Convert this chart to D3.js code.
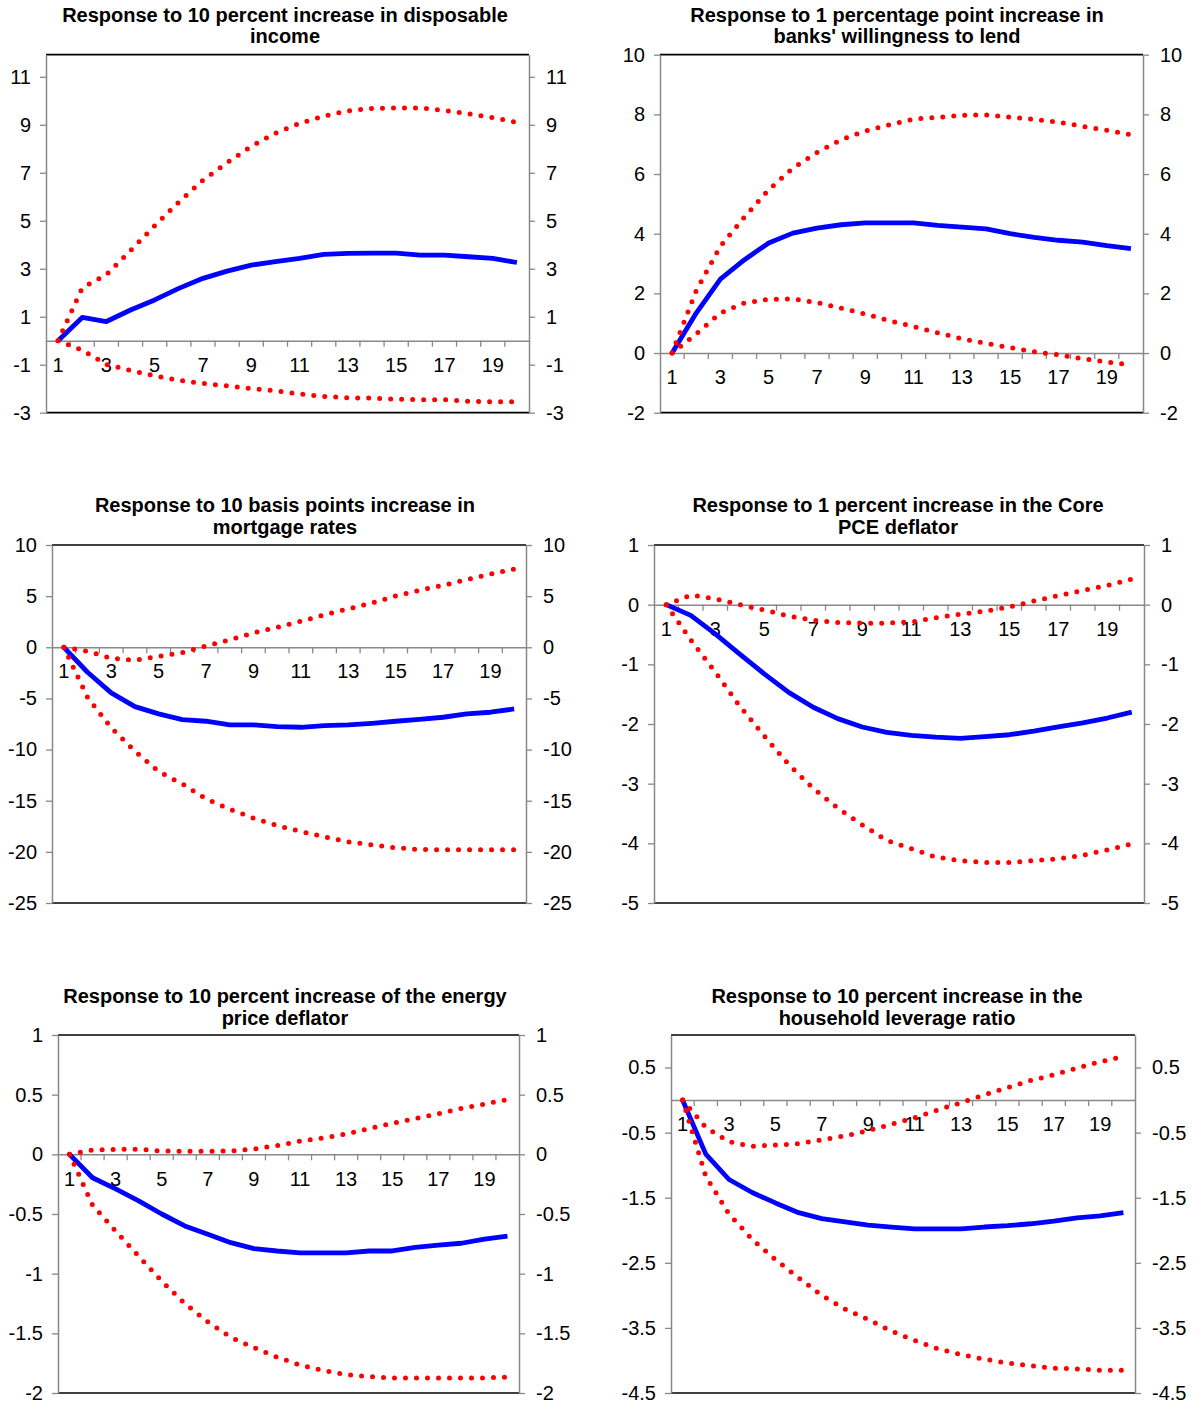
<!DOCTYPE html>
<html>
<head>
<meta charset="utf-8">
<script src="https://cdn.jsdelivr.net/npm/d3@7"></script>
<style>
  body { margin: 0; background: #fff; }
  text { font-family: "Liberation Sans", Arial, sans-serif; fill: #000; }
</style>
</head>
<body>
<svg id="chart" width="1194" height="1405"></svg>
<script>
// quarters after the shock
var periods = [1,2,3,4,5,6,7,8,9,10,11,12,13,14,15,16,17,18,19,20];
var periodLabels = [1,3,5,7,9,11,13,15,17,19];

// disposable income shock
var incomeMid = [0,0.97,0.8,1.28,1.7,2.18,2.6,2.9,3.15,3.3,3.43,3.6,3.64,3.65,3.65,3.57,3.57,3.5,3.43,3.26];
var incomeUp  = [0,2.2,2.75,3.76,4.79,5.78,6.69,7.42,8.1,8.65,9.06,9.36,9.58,9.68,9.7,9.7,9.6,9.46,9.3,9.1];
var incomeLow = [0,-0.39,-0.99,-1.24,-1.46,-1.65,-1.78,-1.88,-1.99,-2.08,-2.22,-2.32,-2.38,-2.39,-2.44,-2.46,-2.46,-2.53,-2.54,-2.54];
var incomeTicks = [-3,-1,1,3,5,7,9,11];

// banks' willingness to lend
var lendMid = [0,1.34,2.48,3.13,3.69,4.02,4.19,4.3,4.36,4.36,4.36,4.28,4.22,4.16,4.0,3.88,3.78,3.72,3.6,3.5];
var lendUp  = [0,2.09,3.58,4.56,5.47,6.2,6.72,7.15,7.44,7.65,7.84,7.9,7.97,7.98,7.91,7.83,7.74,7.6,7.47,7.32];
var lendLow = [0,0.64,1.34,1.68,1.8,1.81,1.69,1.5,1.31,1.08,0.89,0.68,0.48,0.32,0.18,0.04,-0.06,-0.19,-0.3,-0.39];
var lendTicks = [-2,0,2,4,6,8,10];

// mortgage rates
var mortMid = [0,-2.44,-4.46,-5.8,-6.51,-7.07,-7.23,-7.59,-7.59,-7.75,-7.82,-7.65,-7.59,-7.43,-7.23,-7.04,-6.84,-6.51,-6.35,-6.03];
var mortUp  = [0,-0.39,-1.07,-1.27,-0.88,-0.52,0.13,0.72,1.4,1.95,2.54,3.19,3.75,4.33,5.02,5.57,6.06,6.61,7.17,7.65];
var mortLow = [0,-4.9,-7.88,-10.16,-12.15,-13.36,-14.82,-15.83,-16.71,-17.43,-18.01,-18.53,-19.02,-19.32,-19.6,-19.77,-19.8,-19.8,-19.8,-19.8];
var mortTicks = [-25,-20,-15,-10,-5,0,5,10];

// core PCE deflator
var pceMid = [0,-0.18,-0.49,-0.83,-1.16,-1.47,-1.72,-1.91,-2.05,-2.14,-2.19,-2.22,-2.24,-2.21,-2.18,-2.12,-2.05,-1.98,-1.9,-1.8];
var pceUp  = [0,0.16,0.1,0.0,-0.09,-0.19,-0.26,-0.3,-0.31,-0.31,-0.29,-0.22,-0.16,-0.11,-0.04,0.06,0.15,0.24,0.32,0.43];
var pceLow = [0,-0.59,-1.13,-1.7,-2.2,-2.68,-3.08,-3.41,-3.69,-3.95,-4.09,-4.23,-4.29,-4.32,-4.32,-4.29,-4.26,-4.2,-4.11,-4.01];
var pceTicks = [-5,-4,-3,-2,-1,0,1];

// energy price deflator
var energyMid = [0,-0.196,-0.29,-0.39,-0.5,-0.6,-0.67,-0.74,-0.79,-0.81,-0.825,-0.825,-0.825,-0.81,-0.81,-0.78,-0.76,-0.745,-0.71,-0.685];
var energyUp  = [0,0.036,0.042,0.042,0.028,0.025,0.025,0.028,0.045,0.073,0.11,0.137,0.17,0.215,0.26,0.3,0.34,0.386,0.42,0.46];
var energyLow = [0,-0.425,-0.643,-0.853,-1.063,-1.25,-1.404,-1.533,-1.62,-1.7,-1.765,-1.81,-1.846,-1.863,-1.874,-1.874,-1.874,-1.874,-1.874,-1.866];
var energyTicks = [-2,-1.5,-1,-0.5,0,0.5,1];

// household leverage ratio
var levMid = [0,-0.83,-1.22,-1.42,-1.58,-1.73,-1.82,-1.87,-1.92,-1.95,-1.98,-1.98,-1.98,-1.95,-1.93,-1.9,-1.86,-1.81,-1.78,-1.73];
var levUp  = [0,-0.42,-0.64,-0.71,-0.69,-0.67,-0.61,-0.55,-0.47,-0.37,-0.27,-0.15,-0.04,0.08,0.19,0.3,0.39,0.49,0.59,0.67];
var levLow = [0,-1.17,-1.75,-2.14,-2.45,-2.73,-3.0,-3.21,-3.37,-3.55,-3.69,-3.82,-3.91,-3.98,-4.04,-4.08,-4.12,-4.13,-4.15,-4.15];
var levTicks = [-4.5,-3.5,-2.5,-1.5,-0.5,0.5];

var titles = [
  ["Response to 10 percent increase in disposable", "income"],
  ["Response to 1 percentage point increase in", "banks' willingness to lend"],
  ["Response to 10 basis points increase in", "mortgage rates"],
  ["Response to 1 percent increase in the Core", "PCE deflator"],
  ["Response to 10 percent increase of the energy", "price deflator"],
  ["Response to 10 percent increase in the", "household leverage ratio"]
];

// panel frames (plot box in page pixels) and y domains
var panels = [
  {l: 46,  r: 529,  t: 54.7, b: 412.7, tx: 285, ty: 21.5, yMin: -3,   yMax: 11.92, ticks: incomeTicks, mid: incomeMid, up: incomeUp, low: incomeLow},
  {l: 660, r: 1143, t: 54.7, b: 412.7, tx: 897, ty: 21.5, yMin: -2,   yMax: 10,    ticks: lendTicks,   mid: lendMid,   up: lendUp,   low: lendLow},
  {l: 52,  r: 526,  t: 545,  b: 903,   tx: 285, ty: 512,  yMin: -25,  yMax: 10,    ticks: mortTicks,   mid: mortMid,   up: mortUp,   low: mortLow},
  {l: 654, r: 1144, t: 545,  b: 903,   tx: 898, ty: 512,  yMin: -5,   yMax: 1,     ticks: pceTicks,    mid: pceMid,    up: pceUp,    low: pceLow},
  {l: 58,  r: 519,  t: 1035, b: 1393,  tx: 285, ty: 1003, yMin: -2,   yMax: 1,     ticks: energyTicks, mid: energyMid, up: energyUp, low: energyLow},
  {l: 671, r: 1135, t: 1035, b: 1393,  tx: 897, ty: 1003, yMin: -4.5, yMax: 1,     ticks: levTicks,    mid: levMid,    up: levUp,    low: levLow}
];

var svg = d3.select("#chart");

panels.forEach(function(p, i) {
  drawPanel(p, titles[i]);
});

function drawPanel(p, title) {
  var g = svg.append("g");

  var x = d3.scaleBand().domain(periods).range([p.l, p.r]);
  var y = d3.scaleLinear().domain([p.yMin, p.yMax]).range([p.b, p.t]);
  var half = x.bandwidth() / 2;

  // title
  var t = g.append("text")
    .attr("x", p.tx)
    .attr("y", p.ty)
    .attr("text-anchor", "middle")
    .style("font-weight", "bold")
    .style("font-size", "20px");
  t.append("tspan").attr("x", p.tx).text(title[0]);
  t.append("tspan").attr("x", p.tx).attr("dy", 21.5).text(title[1]);

  // top and bottom frame lines
  g.append("line")
    .attr("x1", p.l).attr("x2", p.r)
    .attr("y1", y(p.yMax)).attr("y2", y(p.yMax))
    .attr("stroke", "#000").attr("stroke-width", 1.7);
  g.append("line")
    .attr("x1", p.l).attr("x2", p.r)
    .attr("y1", y(p.yMin)).attr("y2", y(p.yMin))
    .attr("stroke", "#000").attr("stroke-width", 1.7);

  var fmt = function(d) { return String(d); };

  var left = g.append("g")
    .attr("transform", "translate(" + p.l + ",0)")
    .call(d3.axisLeft(y).tickValues(p.ticks).tickFormat(fmt).tickSize(6).tickSizeOuter(0).tickPadding(9));
  var right = g.append("g")
    .attr("transform", "translate(" + p.r + ",0)")
    .call(d3.axisRight(y).tickValues(p.ticks).tickFormat(fmt).tickSize(6).tickSizeOuter(0).tickPadding(11));
  [left, right].forEach(function(a) {
    a.select(".domain").attr("stroke", "#888").attr("stroke-width", 1.5);
    a.selectAll(".tick line").attr("stroke", "#888").attr("stroke-width", 1.3);
    a.selectAll(".tick text").style("font-size", "20px").attr("fill", "#000");
  });

  // category axis on the zero line
  var xa = g.append("g")
    .attr("transform", "translate(0," + y(0) + ")")
    .call(d3.axisBottom(x).tickValues(periodLabels).tickSize(0).tickSizeOuter(0).tickPadding(17));
  xa.select(".domain").attr("stroke", "#888").attr("stroke-width", 1.5);
  xa.selectAll(".tick text").style("font-size", "20px").attr("fill", "#000");

  // tick marks between categories
  g.selectAll(".cat-tick")
    .data(periods.slice(1))
    .enter()
    .append("line")
    .attr("class", "cat-tick")
    .attr("x1", function(d) { return x(d); })
    .attr("x2", function(d) { return x(d); })
    .attr("y1", y(0))
    .attr("y2", y(0) + 6)
    .attr("stroke", "#888")
    .attr("stroke-width", 1.3);

  var line = d3.line()
    .x(function(d, k) { return x(periods[k]) + half; })
    .y(function(d) { return y(d); });

  g.append("path")
    .attr("d", line(p.mid))
    .attr("fill", "none")
    .attr("stroke", "#0000ff")
    .attr("stroke-width", 4.8)
    .attr("stroke-linejoin", "round");

  [p.up, p.low].forEach(function(band) {
    g.append("path")
      .attr("d", line(band))
      .attr("fill", "none")
      .attr("stroke", "#ff0000")
      .attr("stroke-width", 5)
      .attr("stroke-linecap", "round")
      .attr("stroke-dasharray", "0,11");
  });
}
</script>
</body>
</html>
